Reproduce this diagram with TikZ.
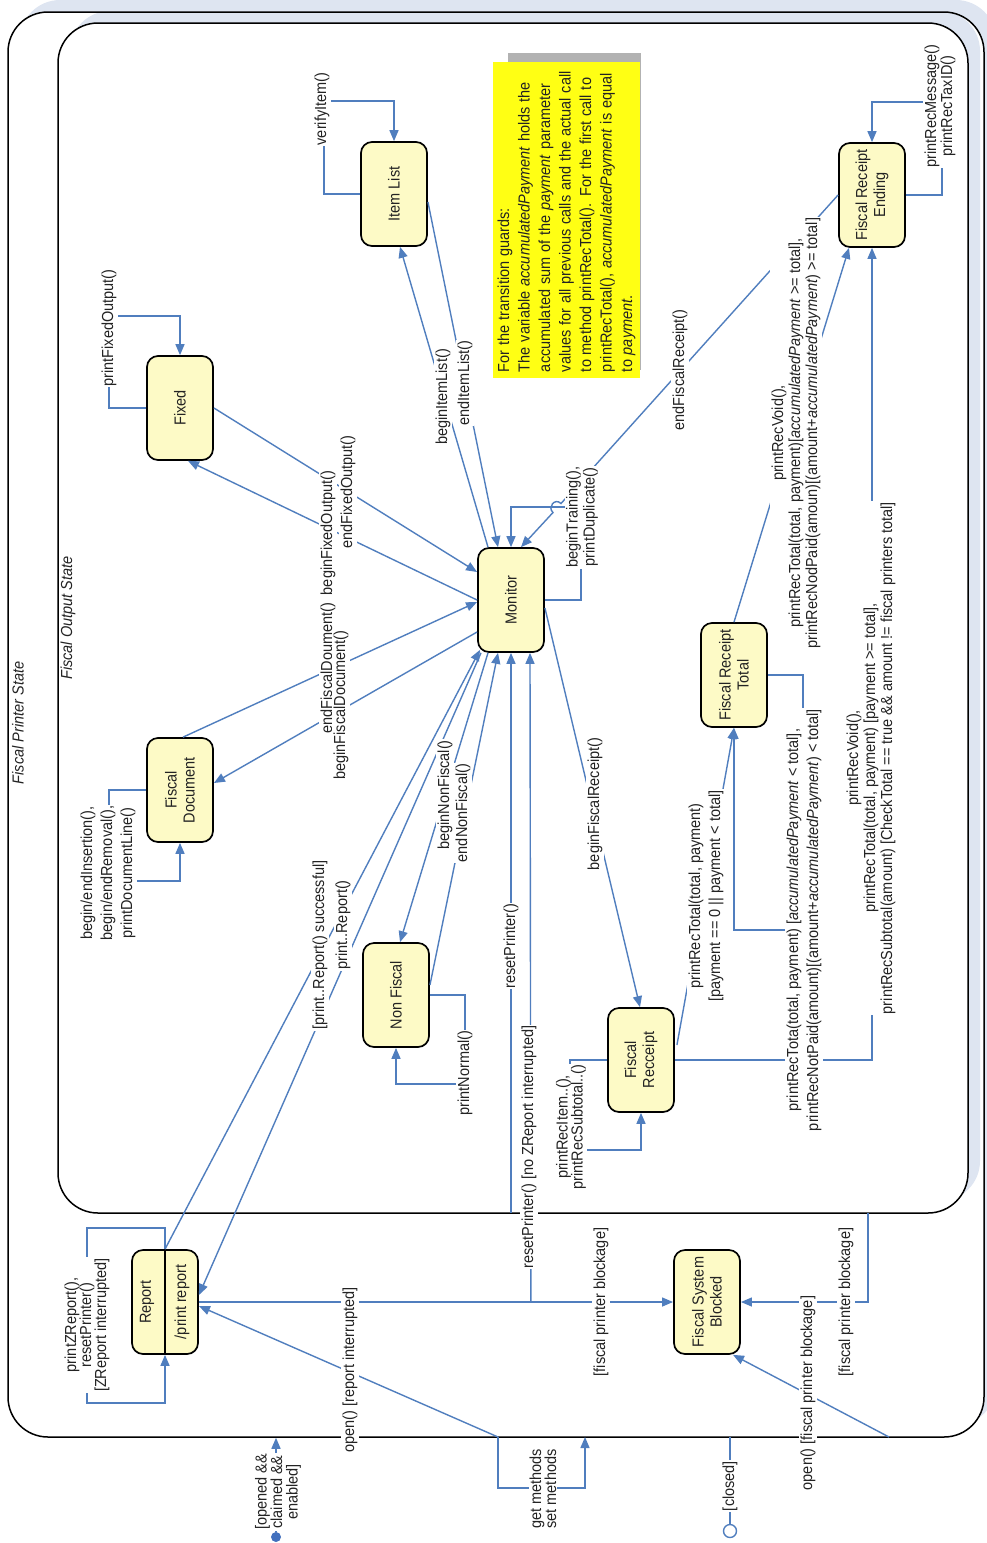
\documentclass[tikz,border=0pt]{standalone}
\usepackage{fontspec}
\setmainfont{Liberation Sans}
\usetikzlibrary{arrows.meta,calc}
\definecolor{statefill}{RGB}{253,250,198}
\definecolor{trans}{RGB}{80,126,190}
\definecolor{tiphead}{RGB}{66,112,190}
\definecolor{notefill}{RGB}{255,255,20}
\definecolor{noteshade}{RGB}{178,178,178}
\definecolor{frameshade}{RGB}{222,229,241}
\definecolor{ink}{RGB}{35,35,35}

\begin{document}
\begin{tikzpicture}[
  x=1pt, y=-1pt,
  state/.style={draw, line width=1.7pt, rounded corners=11pt, fill=statefill,
                rotate=90, yscale=1.1, minimum width=104pt, minimum height=60pt, inner sep=2pt,
                align=center, font=\fontsize{14.5}{16.4}\selectfont, text=ink},
  lbl/.style={rotate=90, yscale=1.1, fill=white, inner sep=1pt, align=center,
              font=\fontsize{14.5}{15.5}\selectfont, text=ink},
  cont/.style={draw, line width=1.5pt, rounded corners=40pt, inner sep=0pt},
  tr/.style={line width=1.4pt, draw=trans},
  arr/.style={tr, -{Triangle[length=11pt, width=9pt]}}
]
  \useasboundingbox (0,0) rectangle (986,1543);

  % composite states
  \fill[frameshade, rounded corners=40pt] (20,0) rectangle (996,1425);
  \fill[white, rounded corners=40pt] (8,12) rectangle (984,1437);
  \fill[frameshade, rounded corners=40pt] (70,11) rectangle (980,1201);
  \fill[white, rounded corners=40pt] (58,23) rectangle (968,1213);
  \node[cont, minimum width=976pt, minimum height=1425pt] (printer) at (496,724.5) {};
  \node[cont, minimum width=910pt, minimum height=1190pt] (output) at (513,618) {};
  \node[lbl, fill=none, font=\fontsize{14.5}{15.5}\selectfont\itshape] (printerlbl) at (18,723) {Fiscal Printer State};
  \node[lbl, fill=none, font=\fontsize{14.5}{15.5}\selectfont\itshape] (outputlbl) at (68,618) {Fiscal Output State};

  % note
  \fill[noteshade] (508,53) rectangle (641,370);
  \node[rotate=90, yscale=1.1, fill=notefill, minimum width=316pt, minimum height=121pt,
        text width=304pt, align=left, inner sep=4pt,
        font=\fontsize{14.5}{18.6}\selectfont, text=ink] (note) at (566.5,220)
    {For the transition guards:\\
     The variable \textit{accumulatedPayment} holds the\\
     accumulated sum of the \textit{payment} parameter\\
     values for all previous calls and the actual call\\
     to method printRecTotal(). For the first call to\\
     printRecTotal(), \textit{accumulatedPayment} is equal\\
     to \textit{payment}.};

  % states
  \node[state] (fixed) at (180,408) {Fixed};
  \node[state] (itemlist) at (394,194) {Item List};
  \node[state] (ending) at (872,195) {Fiscal Receipt\\Ending};
  \node[state] (monitor) at (511,600) {Monitor};
  \node[state] (fiscdoc) at (180,790) {Fiscal\\Document};
  \node[state] (total) at (734,675) {Fiscal Receipt\\Total};
  \node[state] (nonfiscal) at (396,995) {Non Fiscal};
  \node[state] (receipt) at (641,1060) {Fiscal\\Recceipt};
  \node[state] (report) at (165,1302) {};
  \node[state] (blocked) at (707,1302) {Fiscal System\\Blocked};
  \draw[line width=1.4pt] (report.east) -- (report.west);
  \node[lbl, fill=none] (reportname) at (147,1302) {Report};
  \node[lbl, fill=none] (reportdo) at (182,1302) {/print report};

  % pseudo states and frame points
  \node[circle, fill=tiphead, inner sep=0pt, minimum size=10pt] (init) at (276,1537) {};
  \node[circle, draw=trans, line width=1.4pt, fill=white, inner sep=0pt, minimum size=13pt] (final) at (730,1531) {};
  \coordinate (openrep) at (498,1437);
  \coordinate (setm) at (585,1437);
  \coordinate (openblk) at (889,1437);
  \coordinate (closedout) at (730,1437);
  \coordinate (resetin) at (511,1213);
  \coordinate (blkout) at (868,1213);
  \coordinate (hop) at (557,508);

  % self transitions
  \draw[arr] (fixed.north) -- ++(-37,0) |- ($(fixed.east)+(0,-39)$) -- (fixed.east);
  \draw[arr] (itemlist.north) -- ++(-36,0) |- ($(itemlist.east)+(0,-40)$) -- (itemlist.east);
  \draw[arr] (ending.south) -- ++(36,0) |- ($(ending.east)+(0,-40)$) -- (ending.east);
  \draw[arr] (monitor.south) -- ++(36,0) |- ($(monitor.east)+(0,-40)$) -- (monitor.east);
  \draw[arr] (fiscdoc.north) -- ++(-37,0) |- ($(fiscdoc.west)+(0,38)$) -- (fiscdoc.west);
  \draw[arr] (total.south) -- ++(35,0) |- ($(total.west)+(0,202)$) -- (total.west);
  \draw[arr] (receipt.north) -- ++(-37,0) |- ($(receipt.west)+(0,37)$) -- (receipt.west);
  \draw[arr] (nonfiscal.south) -- ++(35,0) |- ($(nonfiscal.west)+(0,36)$) -- (nonfiscal.west);
  \draw[arr] (report.east) -- ++(0,-21) -- ++(-78,0) |- ($(report.west)+(0,48)$) -- (report.west);
  \draw[arr] (openrep) -- ++(0,51) -| (setm);

  % monitor and its neighbours
  \draw[arr] ($(itemlist.south)+(0,8)$) -- ($(monitor.east)+(-13,0)$);
  \draw[arr] ($(monitor.east)+(-23,0)$) -- ($(itemlist.west)+(6,0)$);
  \draw[arr] (ending.north) -- ($(hop)+(4,-4.5)$)
    .. controls ($(hop)+(-2,-10.5)$) and ($(hop)+(-10,-1)$) .. ($(hop)+(-4,4.5)$)
    -- ($(monitor.east)+(10,0)$);
  \draw[arr] (fixed.south) -- ($(monitor.north)+(0,-28)$);
  \draw[arr] (monitor.north) -- ($(fixed.west)+(8,0)$);
  \draw[arr] ($(fiscdoc.east)+(3,0)$) -- ($(monitor.north)+(0,2)$);
  \draw[arr] ($(monitor.north)+(0,32)$) -- ($(fiscdoc.south)+(0,-7)$);
  \draw[arr] ($(monitor.west)+(-23,0)$) -- ($(nonfiscal.east)+(4,0)$);
  \draw[arr] ($(nonfiscal.south)+(0,-10)$) -- ($(monitor.west)+(-13,0)$);
  \draw[arr] ($(monitor.south)+(0,8)$) -- ($(receipt.east)+(-1,0)$);
  \draw[arr] (report.east) -- ($(monitor.west)+(-31,-3)$);
  \draw[arr] ($(monitor.west)+(-30,0)$) -- ($(report.south)+(0,-7)$);
  \draw[arr] (resetin) -- (monitor.west);
  \draw[arr] ($(report.south)+(332,0)$) -- ($(monitor.west)+(19,0)$);

  % fiscal receipt
  \draw[arr] ($(receipt.south)+(2,-15)$) -- (total.west);
  \draw[arr] (total.east) -- ($(ending.west)+(-23,0)$);
  \draw[arr] (receipt.south) -| (ending.west);

  % report, blockage, entry and exit
  \draw[arr] (report.south) -- (blocked.north);
  \draw[arr] (openrep) -- ($(report.south)+(0,4)$);
  \draw[arr] (openblk) -- ($(blocked.west)+(26,0)$);
  \draw[arr] (blkout) |- (blocked.south);
  \draw[arr] (init) -- (init |- printer.south);
  \draw[tr] (closedout) -- (final);

  % labels
  \node[lbl] (lfixed) at (109,328) {printFixedOutput()};
  \node[lbl] (litem) at (322,109) {verifyItem()};
  \node[lbl, font=\fontsize{14.5}{12}\selectfont] (lending) at (940,106) {printRecMessage()\\printRecTaxID()};
  \node[lbl] (lmonitor) at (582,517) {beginTraining(),\\printDuplicate()};
  \node[lbl, font=\fontsize{14.5}{18.2}\selectfont] (ldoc) at (108,873) {begin/endInsertion(),\\begin/endRemoval(),\\printDocumentLine()};
  \node[lbl, font=\fontsize{14.5}{18.2}\selectfont] (ltotal) at (804,920)
    {printRecTota(total, payment) [\textit{accumulatedPayment} < total],\\
     printRecNotPaid(amount)[(amount+\textit{accumulatedPayment}) < total]};
  \node[lbl, font=\fontsize{14.5}{13.6}\selectfont] (lreceipt) at (571,1127) {printRecItem..(),\\printRecSubtotal..()};
  \node[lbl] (lnormal) at (465,1073) {printNormal()};
  \node[lbl, font=\fontsize{14.5}{13.6}\selectfont] (lreport) at (87,1325) {printZReport(),\\resetPrinter()\\{}[ZReport interrupted]};
  \node[lbl, font=\fontsize{14.5}{13.6}\selectfont] (lgetset) at (543,1489) {get methods\\set methods};
  \node[lbl] (lenditem) at (465,383) {endItemList()};
  \node[lbl] (lbeginitem) at (443,397) {beginItemList()};
  \node[lbl] (lendrec) at (680,370) {endFiscalReceipt()};
  \node[lbl] (ltotend) at (796,433)
    {printRecVoid(),\\
     printRecTotal(total, payment)[\textit{accumulatedPayment} >= total],\\
     printRecNodPaid(amoun)[(amount+\textit{accumulatedPayment}) >= total]};
  \node[lbl] (lrecend) at (871,758)
    {printRecVoid(),\\
     printRecTotal(total, payment) [payment >= total],\\
     printRecSubtotal(amount) [CheckTotal == true \&\& amount != fiscal printers total]};
  \node[lbl, font=\fontsize{14.5}{18.2}\selectfont] (lrectot) at (706,896) {printRecTotal(total, payment)\\{}[payment == 0 || payment < total]};
  \node[lbl] (lbeginrec) at (595,804) {beginFiscalReceipt()};
  \node[lbl] (lbeginnon) at (445,795) {beginNonFiscal()};
  \node[lbl] (lendnon) at (463,813) {endNonFiscal()};
  \node[lbl] (lrepok) at (320,945) {[print..Report() successful]};
  \node[lbl] (lrepgo) at (343,925) {print..Report()};
  \node[lbl] (lendfixed) at (348,492) {endFixedOutput()};
  \node[lbl] (lbeginfixed) at (328,533) {beginFixedOutput()};
  \node[lbl] (lenddoc) at (328,668) {endFiscalDoument()};
  \node[lbl] (lbegindoc) at (341,705) {beginFiscalDocument()};
  \node[lbl] (lreset) at (511,946) {resetPrinter()};
  \node[lbl] (lresetz) at (529,1147) {resetPrinter() [no ZReport interrupted]};
  \node[lbl] (lblock) at (601,1302) {[fiscal printer blockage]};
  \node[lbl] (lopenrep) at (350,1370) {open() [report interrupted]};
  \node[lbl] (lopenblk) at (808,1393) {open() [fiscal printer blockage]};
  \node[lbl] (lblockout) at (846,1302) {[fiscal printer blockage]};
  \node[lbl, font=\fontsize{14.5}{14}\selectfont] (lopened) at (278,1492) {[opened \&\&\\claimed \&\&\\enabled]};
  \node[lbl] (lclosed) at (730,1486) {[closed]};
\end{tikzpicture}
\end{document}
